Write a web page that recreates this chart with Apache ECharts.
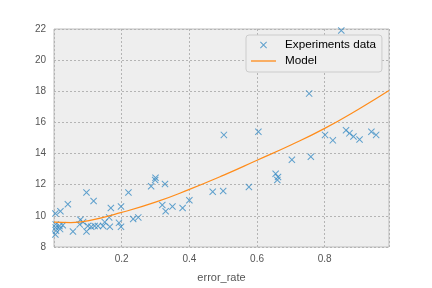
<!DOCTYPE html>
<html>
<head>
<meta charset="utf-8">
<script src="https://cdn.jsdelivr.net/npm/echarts@6/dist/echarts.min.js"></script>
<style>html,body{margin:0;padding:0;background:#fff}#c{width:432px;height:288px}</style>
</head>
<body>
<div id="c"></div>
<script>
var errorRate = [0.849,0.754,0.801,0.824,0.863,0.873,0.885,0.903,0.938,0.952,0.992,0.759,0.703,0.655,0.662,0.660,0.576,0.604,0.502,0.500,0.469,
  0.400,0.380,0.350,0.330,0.320,0.328,0.287,0.299,0.300,0.249,0.234,0.220,0.198,0.168,0.117,0.096,0.041,0.019,0.004,
  0.005,0.005,0.006,0.004,0.016,0.018,0.026,0.056,0.078,0.076,0.086,0.096,0.100,0.110,0.120,0.130,0.145,0.150,0.163,0.165,0.192,0.198];
var measured = [21.9,17.85,15.2,14.85,15.5,15.3,15.1,14.9,15.4,15.2,15.5,13.8,13.6,12.7,12.5,12.3,11.85,15.4,15.2,11.6,11.55,
  11.0,10.5,10.6,10.3,10.7,12.05,11.9,12.3,12.45,9.9,9.8,11.5,10.6,10.5,10.95,11.5,10.75,10.3,10.15,
  9.45,9.25,9.05,8.8,9.35,9.15,9.4,9.0,9.75,9.45,9.6,9.0,9.35,9.3,9.35,9.35,9.35,9.6,9.9,9.3,9.55,9.3];
var modelX = [0.0,0.05,0.1,0.2,0.3,0.4,0.5,0.6,0.7,0.8,0.9,0.99];
var modelY = [9.6,9.57,9.68,10.22,10.88,11.7,12.6,13.57,14.55,15.62,16.85,18.05];
var xTicks = [0.2,0.4,0.6,0.8];
var yTicks = [8,10,12,14,16,18,20,22];

var xPath = 'path://M0,1L1,0L5,4L9,0L10,1L6,5L10,9L9,10L5,6L1,10L0,9L4,5Z';
var linePath = 'path://M0,0L25,0L25,1.3L0,1.3Z';
var chart = echarts.init(document.getElementById('c'), null, {renderer:'canvas'});
var labelFont = {color:'#555555', fontSize:10, fontFamily:'Liberation Sans'};
var gridLine = {show:true, lineStyle:{color:'#b4b4b4', type:[2,2], width:1}};
chart.setOption({
  animation:false,
  backgroundColor:'#ffffff',
  grid:{left:54, right:43, top:29, bottom:38, show:true, backgroundColor:'#eeeeee', borderColor:'#bcbcbc', borderWidth:1},
  legend:{
    left:246, top:35, orient:'vertical',
    backgroundColor:'#eeeeee', borderColor:'#cccccc', borderWidth:1, borderRadius:3,
    padding:[3,6,4,5], itemWidth:25, itemHeight:7, itemGap:2,
    textStyle:{color:'#000000', fontSize:11.7, fontFamily:'Liberation Sans', lineHeight:14, padding:[0,0,0,4]},
    data:[{name:'Experiments data', icon:xPath},{name:'Model', icon:linePath}]
  },
  xAxis:{
    type:'value', min:0, max:0.99, interval:0.2,
    name:'error_rate', nameLocation:'middle', nameGap:25,
    nameTextStyle:{color:'#555555', fontSize:11, fontFamily:'Liberation Sans'},
    axisLine:{show:false}, axisTick:{show:false},
    axisLabel:Object.assign({showMinLabel:false, showMaxLabel:false, margin:7,
      formatter:function(v){ return xTicks.indexOf(Math.round(v*10)/10)>=0 ? v.toFixed(1) : ''; }}, labelFont),
    splitLine:gridLine
  },
  yAxis:{
    type:'value', min:8, max:22, interval:2,
    axisLine:{show:false}, axisTick:{show:false},
    axisLabel:Object.assign({margin:8, formatter:function(v){ return yTicks.indexOf(v)>=0 ? String(v) : ''; }}, labelFont),
    splitLine:gridLine
  },
  series:[
    {name:'Experiments data', type:'scatter', symbol:xPath, symbolSize:7,
     itemStyle:{color:'#3a8cc4'},
     data:errorRate.map(function(x,i){return [x, measured[i]];}), z:3},
    {name:'Model', type:'line', symbol:'none', showSymbol:false, smooth:true,
     lineStyle:{color:'#ff8c1a', width:1.2}, itemStyle:{color:'#ff8c1a'},
     data:modelX.map(function(x,i){return [x, modelY[i]];}), z:4}
  ]
});
</script>
</body>
</html>
